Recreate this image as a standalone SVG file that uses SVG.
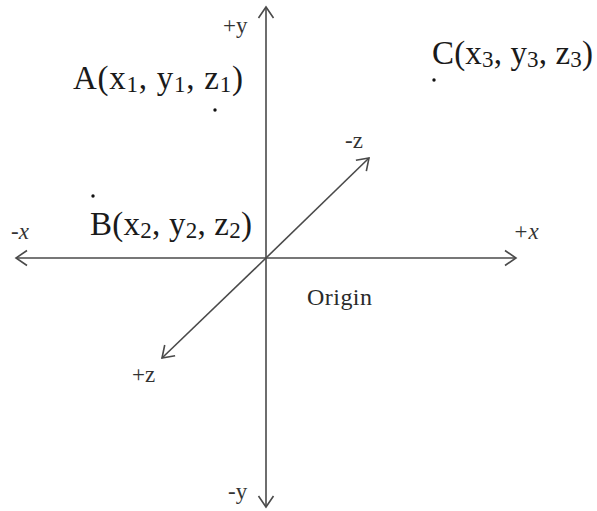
<svg xmlns="http://www.w3.org/2000/svg" width="597" height="511" viewBox="0 0 597 511">
<style>
.ax{stroke:#4a4a4a;stroke-width:1.6;fill:none}
.lbl{font-family:"Liberation Serif","Times New Roman",serif;font-size:23px;fill:#333}
.it{font-style:italic}
.org{font-family:"Liberation Serif","Times New Roman",serif;font-size:24px;fill:#2a2a2a}
.pt{font-family:"Liberation Serif","Times New Roman",serif;font-size:33px;fill:#1a1a1a}
.sub{font-size:23px}
.dot{fill:#111}
</style>
<defs>
<marker id="arr" markerUnits="userSpaceOnUse" markerWidth="14" markerHeight="18" refX="12" refY="8" orient="auto" overflow="visible">
<path d="M1,0.5 L12,8 L1,15.5" fill="none" stroke="#4a4a4a" stroke-width="1.6"/>
</marker>
</defs>
<g id="connectors">
<line class="ax" x1="266" y1="258" x2="266" y2="7" marker-end="url(#arr)"/>
<line class="ax" x1="266" y1="258" x2="266" y2="507" marker-end="url(#arr)"/>
<line class="ax" x1="266" y1="258" x2="16" y2="258" marker-end="url(#arr)"/>
<line class="ax" x1="266" y1="258" x2="516" y2="258" marker-end="url(#arr)"/>
<line class="ax" x1="266" y1="258" x2="369" y2="158" marker-end="url(#arr)"/>
<line class="ax" x1="266" y1="258" x2="162" y2="358" marker-end="url(#arr)"/>
</g>
<g id="axis-labels">
<text class="lbl" x="223" y="33">+y</text>
<text class="lbl" x="228" y="499">-y</text>
<text class="lbl it" x="11" y="239">-x</text>
<text class="lbl it" x="513" y="239">+x</text>
<text class="lbl" x="345" y="148">-z</text>
<text class="lbl" x="132" y="382">+z</text>
</g>
<g id="origin">
<text class="org" x="307" y="305" textLength="65">Origin</text>
</g>
<g id="pointA">
<circle class="dot" cx="215" cy="110" r="1.7"/>
<text class="pt" x="73" y="89" textLength="170">A(x<tspan class="sub" dy="3">1</tspan><tspan dy="-3">, y</tspan><tspan class="sub" dy="3">1</tspan><tspan dy="-3">, z</tspan><tspan class="sub" dy="3">1</tspan><tspan dy="-3">)</tspan></text>
</g>
<g id="pointB">
<circle class="dot" cx="93" cy="196" r="1.7"/>
<text class="pt" x="90" y="235" textLength="162">B(x<tspan class="sub" dy="3">2</tspan><tspan dy="-3">, y</tspan><tspan class="sub" dy="3">2</tspan><tspan dy="-3">, z</tspan><tspan class="sub" dy="3">2</tspan><tspan dy="-3">)</tspan></text>
</g>
<g id="pointC">
<circle class="dot" cx="434" cy="80" r="1.7"/>
<text class="pt" x="432" y="64" textLength="161">C(x<tspan class="sub" dy="3">3</tspan><tspan dy="-3">, y</tspan><tspan class="sub" dy="3">3</tspan><tspan dy="-3">, z</tspan><tspan class="sub" dy="3">3</tspan><tspan dy="-3">)</tspan></text>
</g>
</svg>
